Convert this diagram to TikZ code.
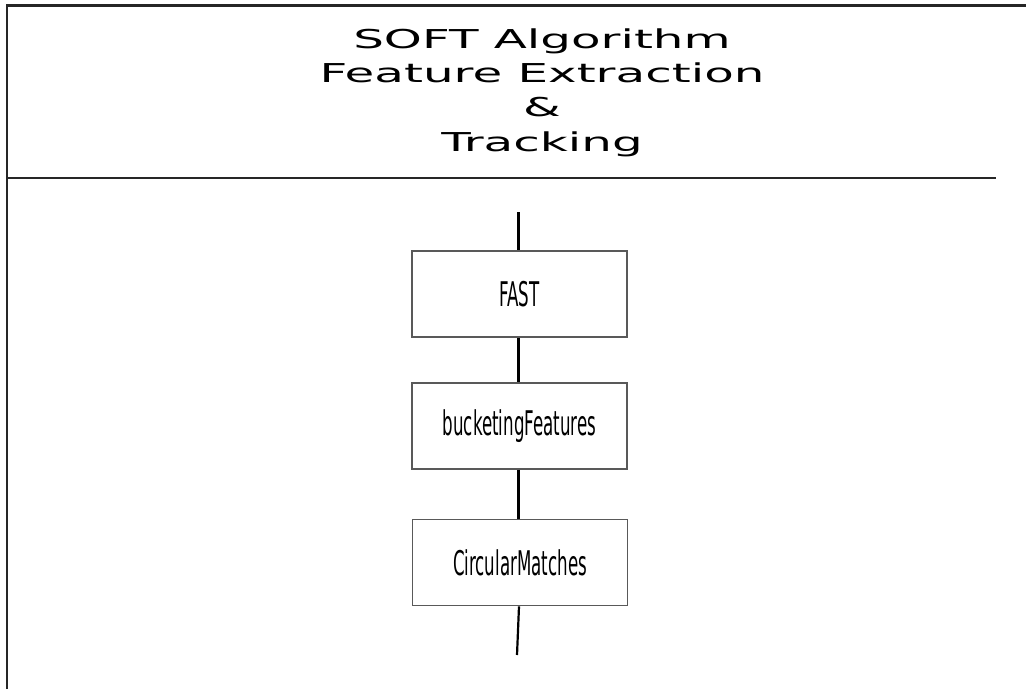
\documentclass[tikz,border=0pt]{standalone}
\usepackage{fontspec}
\usepackage{graphicx}
\setmainfont{DejaVu Sans}
\tikzset{
  frameline/.style={draw=black!85, line width=2.4pt},
  stagebox/.style={draw=black!65, line width=1.7pt, minimum width=215pt, minimum height=86pt, inner sep=0pt, fill=white},
  titleline/.style={anchor=base, inner sep=0pt, text=black},
  link/.style={draw=black, line width=2.2pt},
}
% wide title lettering and narrow stage lettering
\newcommand{\titletext}[1]{\scalebox{1.86}[1]{\fontsize{26pt}{30pt}\selectfont #1}}
\newcommand{\stagetext}[1]{\scalebox{0.49}[1]{\fontsize{34pt}{40pt}\selectfont #1}}
\begin{document}
\begin{tikzpicture}[x=1pt, y=-1pt]
  \useasboundingbox (0,0) rectangle (1026,689);
  \fill[white] (0,0) rectangle (1026,689);

  % outer frame (top and left) and the title divider
  \draw[frameline] (7,689) -- (7,5.5) -- (1026,5.5);
  \draw[frameline] (8,178) -- (996,178);

  % title
  \node[titleline] (t1) at (542,48) {\titletext{SOFT Algorithm}};
  \node[titleline] (t2) at (542,82) {\titletext{Feature Extraction}};
  \node[titleline] (t3) at (542,116) {\titletext{\&}};
  \node[titleline] (t4) at (542,151) {\titletext{Tracking}};

  % processing stages
  \node[stagebox] (fast) at (519.5,294) {\stagetext{FAST}};
  \node[stagebox] (bucket) at (519.5,426) {\stagetext{bucketingFeatures}};
  \node[stagebox] (circ) at (520,562.5) {\stagetext{CircularMatches}};

  \coordinate (in) at (518.5,212);
  \coordinate (out) at (517,655);

  \draw[link] (in) -- (fast.north -| in);
  \draw[link] (fast.south -| in) -- (bucket.north -| in);
  \draw[link] (bucket.south -| in) -- (circ.north -| in);
  \draw[link] (circ.south) ++(-1,0) -- (out);
\end{tikzpicture}
\end{document}
